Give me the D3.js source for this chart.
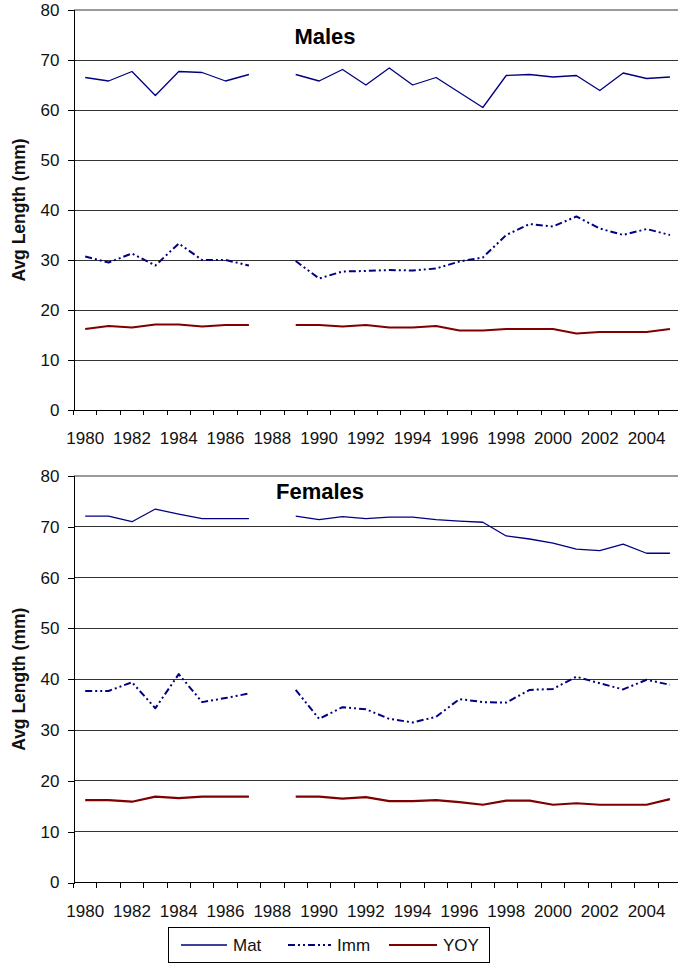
<!DOCTYPE html>
<html>
<head>
<meta charset="utf-8">
<script src="https://cdn.jsdelivr.net/npm/d3@7"></script>
<style>
  html, body { margin: 0; padding: 0; background: #fff; }
  svg { display: block; font-family: "Liberation Sans", Arial, sans-serif; }
</style>
</head>
<body>
<svg id="chart" width="678" height="966"></svg>
<script>
// Survey years (1988 not sampled)
const years = d3.range(1980, 2006);
const yTicks = [0, 10, 20, 30, 40, 50, 60, 70, 80];
const seriesNames = ["Mat", "Imm", "YOY"];

// Average length (mm) by stage, males
const malesMat = [66.5, 65.8, 67.7, 62.9, 67.7, 67.5, 65.8, 67.1, null, 67.1, 65.8, 68.1, 65.0,
                  68.4, 65.0, 66.5, 63.5, 60.5, 66.9, 67.1, 66.6, 66.9, 63.9, 67.4, 66.3, 66.6];
const malesImm = [30.7, 29.5, 31.3, 28.9, 33.3, 30.0, 30.0, 28.9, null, 29.8, 26.3, 27.7, 27.8,
                  28.0, 27.9, 28.3, 29.7, 30.5, 35.0, 37.2, 36.7, 38.7, 36.3, 35.0, 36.2, 35.0];
const malesYoy = [16.2, 16.8, 16.5, 17.1, 17.1, 16.7, 17.0, 17.0, null, 17.0, 17.0, 16.7, 17.0,
                  16.5, 16.5, 16.8, 15.9, 15.9, 16.2, 16.2, 16.2, 15.3, 15.6, 15.6, 15.6, 16.2];

// Average length (mm) by stage, females
const femalesMat = [72.1, 72.1, 71.0, 73.5, 72.5, 71.6, 71.6, 71.6, null, 72.1, 71.4, 72.0, 71.6,
                    71.9, 71.9, 71.4, 71.1, 70.9, 68.2, 67.6, 66.8, 65.6, 65.3, 66.6, 64.8, 64.8];
const femalesImm = [37.7, 37.7, 39.4, 34.3, 41.0, 35.5, 36.3, 37.2, null, 37.9, 32.2, 34.5, 34.1,
                    32.2, 31.5, 32.6, 36.1, 35.5, 35.4, 37.9, 38.1, 40.5, 39.2, 38.0, 39.9, 38.9];
const femalesYoy = [16.2, 16.2, 15.9, 16.9, 16.6, 16.9, 16.9, 16.9, null, 16.9, 16.9, 16.5, 16.8,
                    16.0, 16.0, 16.2, 15.8, 15.3, 16.1, 16.1, 15.3, 15.6, 15.3, 15.3, 15.3, 16.4];

const styles = {
  Mat: { color: "#000080", width: 1.3, dash: null },
  Imm: { color: "#000080", width: 2, dash: "7,3,2,3,2,3" },
  YOY: { color: "#800000", width: 2.2, dash: null }
};

const svg = d3.select("#chart");
const W = 678;

function drawPanel(opts) {
  const { top, bottom, title, titleX, titleY, values } = opts;
  const left = 73.5;
  const x = d3.scaleBand().domain(years).range([left, left + years.length * 23.39]);
  const y = d3.scaleLinear().domain([0, 80]).range([bottom, top]);
  const g = svg.append("g");

  // horizontal gridlines
  g.selectAll("line.grid").data(yTicks.filter(t => t > 0)).join("line")
    .attr("x1", left).attr("x2", W)
    .attr("y1", d => y(d)).attr("y2", d => y(d))
    .attr("stroke", d => d === 80 ? "#9a9a9a" : "#333")
    .attr("stroke-width", d => d === 80 ? 1.5 : 1)
    .attr("shape-rendering", "crispEdges");

  // y axis
  const yAxis = d3.axisLeft(y).tickValues(yTicks).tickSize(6).tickPadding(8);
  const ya = g.append("g").attr("transform", `translate(${left},0)`).call(yAxis);
  ya.select(".domain").attr("stroke", "#000").attr("shape-rendering", "crispEdges");
  ya.selectAll(".tick line").attr("stroke", "#000").attr("shape-rendering", "crispEdges");
  ya.selectAll("text").attr("font-size", 17).attr("fill", "#111")
    .attr("font-family", "'Liberation Sans', Arial, sans-serif");

  // x axis: ticks between categories, every other year labelled
  const xa = g.append("g").attr("transform", `translate(0,${bottom})`);
  xa.append("line").attr("x1", left).attr("x2", W).attr("y1", 0).attr("y2", 0)
    .attr("stroke", "#000").attr("shape-rendering", "crispEdges");
  xa.selectAll("line.tk").data(years.concat([2006])).join("line")
    .attr("class", "tk")
    .attr("x1", (d, i) => left + i * x.bandwidth()).attr("x2", (d, i) => left + i * x.bandwidth())
    .attr("y1", 0).attr("y2", 5)
    .attr("stroke", "#000").attr("shape-rendering", "crispEdges");
  xa.selectAll("text").data(years.filter(d => d % 2 === 0)).join("text")
    .attr("x", d => x(d) + x.bandwidth() / 2)
    .attr("y", 34)
    .attr("text-anchor", "middle")
    .attr("font-size", 17)
    .attr("fill", "#111")
    .text(d => d);

  // y axis title
  g.append("text")
    .attr("transform", `translate(25,${(top + bottom) / 2}) rotate(-90)`)
    .attr("text-anchor", "middle")
    .attr("font-size", 17.5)
    .attr("font-weight", "bold")
    .attr("fill", "#111")
    .text("Avg Length (mm)");

  // panel title
  g.append("text")
    .attr("x", titleX).attr("y", titleY)
    .attr("text-anchor", "middle")
    .attr("font-size", 22)
    .attr("font-weight", "bold")
    .attr("fill", "#000")
    .text(title);

  // series lines
  const line = d3.line()
    .defined(d => d.v !== null)
    .x(d => x(d.year) + x.bandwidth() / 2)
    .y(d => y(d.v));

  seriesNames.forEach((name, k) => {
    const s = styles[name];
    const data = years.map((yr, i) => ({ year: yr, v: values[k][i] }));
    g.append("path")
      .datum(data)
      .attr("d", line)
      .attr("fill", "none")
      .attr("stroke", s.color)
      .attr("stroke-width", s.width)
      .attr("stroke-dasharray", s.dash)
      .attr("stroke-linejoin", "round");
  });
}

drawPanel({ top: 10, bottom: 410, title: "Males", titleX: 325, titleY: 44,
            values: [malesMat, malesImm, malesYoy] });
drawPanel({ top: 476, bottom: 882.5, title: "Females", titleX: 320, titleY: 499,
            values: [femalesMat, femalesImm, femalesYoy] });

// legend
const lg = svg.append("g");
lg.append("rect").attr("x", 168.5).attr("y", 927.5).attr("width", 321).attr("height", 35)
  .attr("fill", "#fff").attr("stroke", "#000").attr("stroke-width", 1);
const legendItems = [
  { name: "Mat", x1: 181, x2: 227, tx: 233 },
  { name: "Imm", x1: 288, x2: 331, tx: 337 },
  { name: "YOY", x1: 389, x2: 437, tx: 443 }
];
legendItems.forEach(it => {
  const s = styles[it.name];
  lg.append("line").attr("x1", it.x1).attr("x2", it.x2).attr("y1", 945).attr("y2", 945)
    .attr("stroke", s.color).attr("stroke-width", s.width)
    .attr("stroke-dasharray", s.dash);
  lg.append("text").attr("x", it.tx).attr("y", 951)
    .attr("font-size", 17).attr("fill", "#111").text(it.name);
});
</script>
</body>
</html>
